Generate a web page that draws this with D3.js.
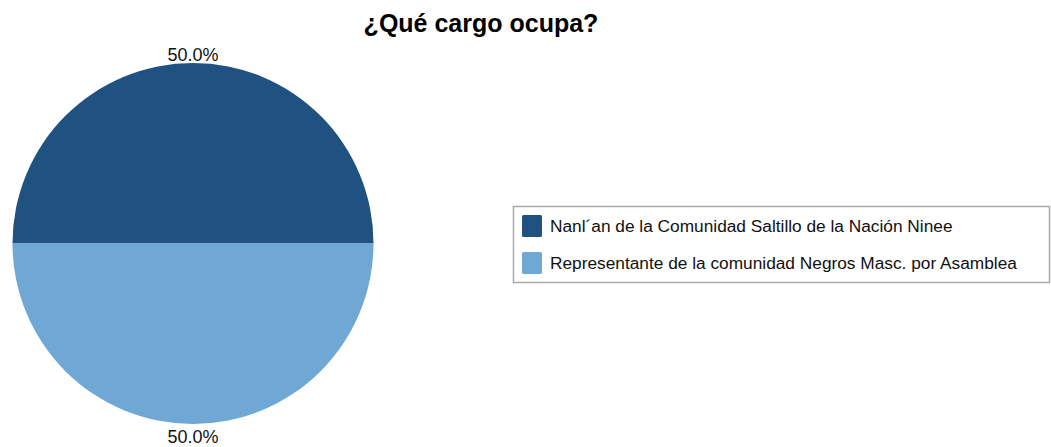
<!DOCTYPE html>
<meta charset="utf-8">
<script src="https://d3js.org/d3.v7.min.js"></script>
<style>
    body { margin: 0; background: #fff; }
    text { font-family: "Liberation Sans", Arial, Helvetica, sans-serif; }
</style>
<div id="chart"></div>
<script>
    var width = 1051
    var height = 447

    // data
    var categories = [
        "Nanl\u00B4an de la Comunidad Saltillo de la Naci\u00F3n Ninee",
        "Representante de la comunidad Negros Masc. por Asamblea"
    ]
    var values = [1, 1]
    var colors = ["#1f5280", "#6fa7d5"]
    var title = "¿Qué cargo ocupa?"

    var data = categories.map(function (c, i) {
        return { name: c, value: values[i] }
    })
    var total = d3.sum(values)

    var svg = d3.select("#chart")
        .append("svg")
        .attr("width", width)
        .attr("height", height)

    svg.append("text")
        .attr("x", 481)
        .attr("y", 32)
        .attr("text-anchor", "middle")
        .style("font-size", "25px")
        .style("font-weight", "bold")
        .text(title)

    var cx = 193, cy = 243.5, r = 180.5

    var color = d3.scaleOrdinal()
        .domain(categories)
        .range(colors)

    var pie = d3.pie()
        .sort(null)
        .value(function (d) { return d.value })
        .startAngle(-Math.PI / 2)
        .endAngle(3 * Math.PI / 2)

    var arc = d3.arc().innerRadius(0).outerRadius(r)

    var g = svg.append("g")
        .attr("transform", "translate(" + cx + "," + cy + ")")

    var arcs = pie(data)

    g.selectAll("path")
        .data(arcs)
        .enter()
        .append("path")
        .attr("d", arc)
        .attr("fill", function (d) { return color(d.data.name) })

    // percentage labels just outside the rim
    g.selectAll("text.pct")
        .data(arcs)
        .enter()
        .append("text")
        .attr("class", "pct")
        .attr("text-anchor", "middle")
        .style("font-size", "18px")
        .style("fill", "#111")
        .attr("x", function (d) {
            var a = (d.startAngle + d.endAngle) / 2
            return Math.sin(a) * (r + 3)
        })
        .attr("y", function (d) {
            var a = (d.startAngle + d.endAngle) / 2
            var y = -Math.cos(a) * (r + 3)
            return y < 0 ? y + 0.5 : y + 16
        })
        .text(function (d) { return d3.format(".1%")(d.data.value / total) })

    // legend
    var legend = svg.append("g")
    legend.append("rect")
        .attr("x", 513.5)
        .attr("y", 206.5)
        .attr("width", 536)
        .attr("height", 76)
        .attr("fill", "#fff")
        .attr("stroke", "#aaa")
        .attr("stroke-width", 1.5)

    var item = legend.selectAll("g.item")
        .data(categories)
        .enter()
        .append("g")
        .attr("class", "item")
        .attr("transform", function (d, i) { return "translate(522," + (215 + i * 37) + ")" })

    item.append("rect")
        .attr("width", 20)
        .attr("height", 22)
        .attr("rx", 1.5)
        .attr("fill", function (d) { return color(d) })

    item.append("text")
        .attr("x", 28)
        .attr("y", 17)
        .style("font-size", "17.3px")
        .style("fill", "#111")
        .text(function (d) { return d })
</script>
